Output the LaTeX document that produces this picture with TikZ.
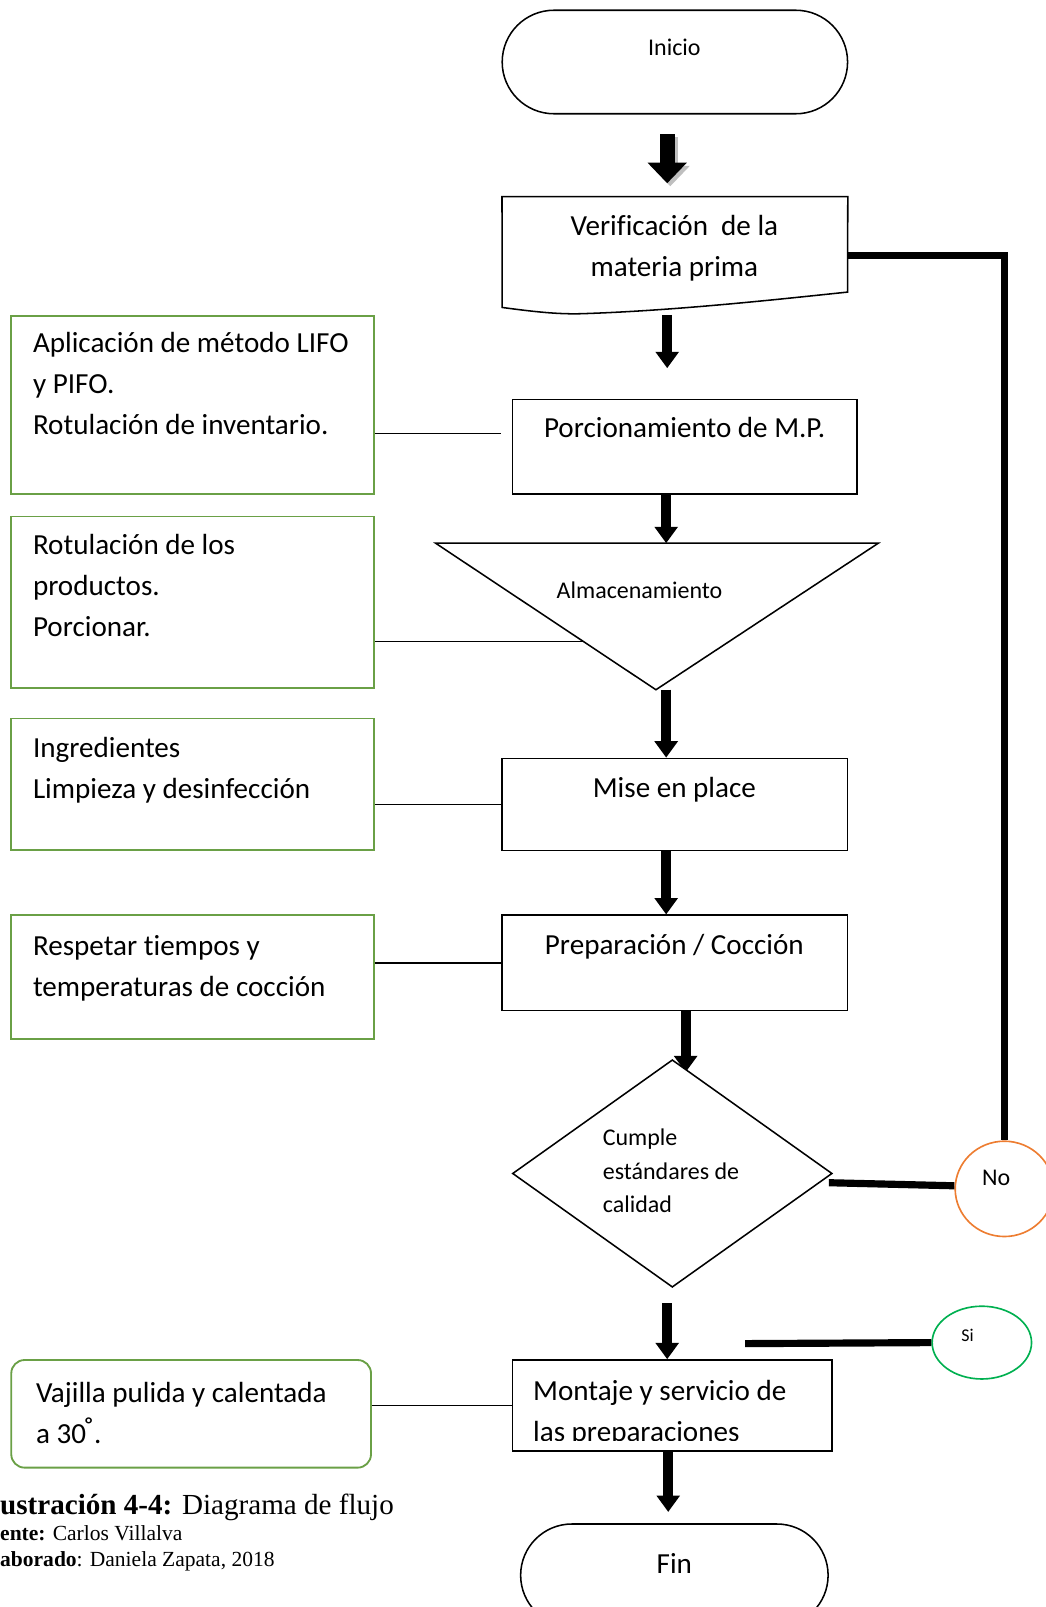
\documentclass[tikz,border=0pt]{standalone}
\usepackage{fontspec}
\setmainfont{Carlito}[Ligatures={NoCommon,NoContextual}]
\newfontfamily\capfont{Liberation Serif}
\usetikzlibrary{arrows.meta,shapes.geometric,shapes.misc,calc,backgrounds}

\definecolor{notegreen}{RGB}{106,160,70}
\definecolor{noorange}{RGB}{237,125,49}
\definecolor{sigreen}{RGB}{0,176,80}

\tikzset{
  bigfont/.style={font=\fontsize{28.4}{40}\selectfont},
  smallfont/.style={font=\fontsize{23.4}{32.5}\selectfont},
  txt/.style={inner sep=0pt, align=left},
  procbox/.style={draw, line width=1.5pt, inner sep=0pt},
  termbox/.style={draw, rounded rectangle, line width=1.5pt, inner sep=0pt},
  notebox/.style={draw=notegreen, line width=1.8pt, inner sep=0pt, minimum width=354pt},
  flowarrow/.style={line width=10pt, -{Triangle[width=22pt,length=16pt]}},
  bigarrow/.style={line width=15pt, -{Triangle[width=37pt,length=20pt]}},
  joinline/.style={line width=7pt},
  thinline/.style={line width=1.4pt}
}

\begin{document}
\begin{tikzpicture}[x=1pt,y=-1pt]
    \useasboundingbox (0,0) rectangle (1020,1568);

    \node[termbox, minimum width=337pt, minimum height=101pt] (inicio) at (658.5,60.5) {};
    \node[smallfont, txt, anchor=base] (inicio-txt) at (658,54) {Inicio};

    \node[minimum width=337pt, minimum height=114pt, inner sep=0pt] (verif) at (658.5,249) {};
    \draw[line width=1.5pt] (verif.north west) -- (verif.north east) -- (827,285)
        .. controls (760,292) and (660,303) .. (570,306)
        .. controls (545,307) and (520,304) .. (490,300) -- cycle;
    \node[bigfont, txt, align=center, anchor=north] (verif-txt) at (658,202) {\strut Verificación\ \ de la\\materia prima};

    \node[procbox, minimum width=336pt, minimum height=92pt] (porc) at (668,436) {};
    \node[bigfont, txt, anchor=base] (porc-txt) at (668,427) {Porcionamiento de M.P.};

    \coordinate (alm-nw) at (425,530);
    \coordinate (alm-ne) at (857,530);
    \coordinate (alm-s) at (640,673);
    \coordinate (alm-n) at (650,530);
    \coordinate (alm-in) at ($(alm-nw)!0.671!(alm-s)$);
    \draw[line width=1.5pt] (alm-nw) -- (alm-ne) -- (alm-s) -- cycle;
    \node[smallfont, txt, anchor=base] (alm-txt) at (624,584) {Almacenamiento};

    \node[procbox, minimum width=337pt, minimum height=90pt] (mise) at (658.5,785) {};
    \node[bigfont, txt, anchor=base] (mise-txt) at (658,778) {Mise en place};

    \node[procbox, minimum width=337pt, minimum height=93pt] (prep) at (658.5,939.5) {};
    \node[bigfont, txt, anchor=base] (prep-txt) at (658,931) {Preparación / Cocción};

    \node[procbox, diamond, fill=white, minimum width=312pt, minimum height=222pt] (chk) at (656,1145) {};
    \node[smallfont, txt, anchor=north west] (chk-txt) at (588,1095) {\strut Cumple\\estándares de\\calidad};

    \node[procbox, minimum width=312pt, minimum height=89pt] (mont) at (656,1371.5) {};
    \begin{scope}
        \clip (mont.north west) rectangle ([yshift=11pt]mont.south east);
        \node[bigfont, txt, anchor=north west] (mont-txt) at (520,1338) {\strut Montaje y servicio de\\las preparaciones};
    \end{scope}

    \node[termbox, minimum width=300pt, minimum height=100pt] (fin) at (658,1537) {};
    \node[bigfont, txt, anchor=base] (fin-txt) at (658,1535) {Fin};

    \node[notebox, minimum height=174pt] (aplic) at (188,395) {};
    \node[bigfont, txt, anchor=north west] (aplic-txt) at (32,316) {\strut Aplicación de método LIFO\\y PIFO.\\Rotulación de inventario.};
    \node[notebox, minimum height=167pt] (rotul) at (188,587.5) {};
    \node[bigfont, txt, anchor=north west] (rotul-txt) at (32,513) {\strut Rotulación de los\\productos.\\Porcionar.};
    \node[notebox, minimum height=128pt] (ingr) at (188,765) {};
    \node[bigfont, txt, anchor=north west] (ingr-txt) at (32,711) {\strut Ingredientes\\Limpieza y desinfección};
    \node[notebox, minimum height=121pt] (resp) at (188,953.5) {};
    \node[bigfont, txt, anchor=north west] (resp-txt) at (32,904) {\strut Respetar tiempos y\\temperaturas de cocción};
    \node[notebox, rounded corners=13pt, minimum width=351pt, minimum height=105pt] (vaj) at (186.5,1379.5) {};
    \node[bigfont, txt, anchor=north west] (vaj-txt) at (35,1340) {\strut Vajilla pulida y calentada\\a 30\kern-3pt\raisebox{1pt}{\fontsize{34}{40}\selectfont˚}.};

    \node[ellipse, draw=noorange, line width=1.6pt, minimum width=96pt, minimum height=93pt, inner sep=0pt] (no) at (980,1160) {};
    \node[smallfont, txt, anchor=base] (no-txt) at (972,1157) {No};
    \node[ellipse, draw=sigreen, line width=1.6pt, minimum width=97pt, minimum height=71pt, inner sep=0pt] (si) at (958,1310) {};
    \node[font=\fontsize{17.5}{20}\selectfont, txt, anchor=base] (si-txt) at (944,1309) {Si};

    \draw[bigarrow, gray!50, shorten <=19pt, shorten >=13pt] ([xshift=-4.5pt,yshift=-3pt]inicio.south) -- ([xshift=-4.5pt,yshift=-3pt]verif.north);
    \draw[bigarrow, shorten <=19pt, shorten >=13pt] ([xshift=-7.5pt]inicio.south) -- ([xshift=-7.5pt]verif.north);
    \draw[flowarrow, shorten <=1pt, shorten >=30pt] ([xshift=-7.5pt]verif.south) -- ([xshift=-17pt]porc.north);
    \draw[flowarrow] ([xshift=-18pt]porc.south) -- (alm-n);
    \draw[flowarrow] ([xshift=10pt]alm-s) -- ([xshift=-8.5pt]mise.north);
    \draw[flowarrow] ([xshift=-8.5pt]mise.south) -- ([xshift=-8.5pt]prep.north);
    \begin{scope}[on background layer]
        \draw[flowarrow] ([xshift=10.5pt]prep.south) -- ([xshift=13pt,yshift=-13pt]chk.north);
    \end{scope}
    \draw[flowarrow, shorten <=15pt] ([xshift=-5pt]chk.south) -- ([xshift=-5pt]mont.north);
    \draw[flowarrow, shorten >=11pt] ([xshift=-4pt]mont.south) -- ([xshift=-6pt]fin.north);

    \coordinate (porc-in) at ([yshift=13pt]porc.west);
    \draw[thinline, shorten >=10pt] (aplic.east |- porc-in) -- (porc-in);
    \draw[thinline] (rotul.east |- alm-in) -- (alm-in);
    \draw[thinline] (ingr.east |- mise.west) -- (mise.west);
    \draw[thinline] (resp.east |- prep.west) -- (prep.west);
    \draw[thinline] (vaj.east |- mont.west) -- (mont.west);

    \draw[joinline] (verif.east) -| (no.north);
    \draw[joinline] ([xshift=-4pt,yshift=-9pt]chk.east) -- ([yshift=3pt]no.west);
    \coordinate (si-end) at (727,1311);
    \draw[joinline] (si-end) -- (si.west);

    \node[font=\capfont\fontsize{28.4}{30}\selectfont, inner sep=0pt, anchor=base west] (cap-title) at (0,1478) {\textbf{ustración 4-4:} Diagrama de flujo};
    \node[font=\capfont\fontsize{21}{24}\selectfont, inner sep=0pt, anchor=base west] (cap-src) at (0,1503) {\textbf{ente:} Carlos Villalva};
    \node[font=\capfont\fontsize{21}{24}\selectfont, inner sep=0pt, anchor=base west] (cap-by) at (0,1528) {\textbf{aborado}: Daniela Zapata, 2018};
\end{tikzpicture}
\end{document}
